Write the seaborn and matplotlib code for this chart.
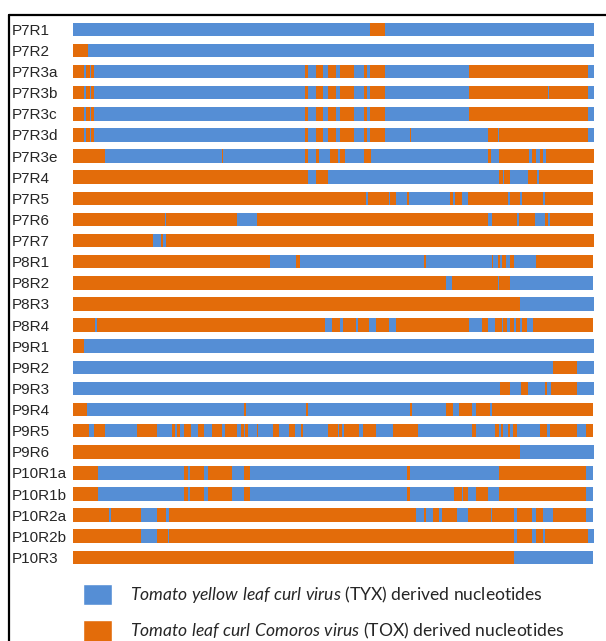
import matplotlib

matplotlib.use("Agg")
import matplotlib.pyplot as plt
import pandas as pd
import seaborn as sns
from matplotlib.lines import Line2D
from matplotlib.patches import Patch

sns.set_style("white")
plt.rcParams["font.family"] = ["Liberation Sans", "DejaVu Sans"]
plt.rcParams["mathtext.fontset"] = "custom"
plt.rcParams["mathtext.rm"] = "Lato"
plt.rcParams["mathtext.it"] = "Lato:italic"

# genome length in scaled position units (whole bar)
GENOME_LEN = 1346

samples = ["P7R1", "P7R2", "P7R3a", "P7R3b", "P7R3c", "P7R3d", "P7R3e",
           "P7R4", "P7R5", "P7R6", "P7R7", "P8R1", "P8R2", "P8R3", "P8R4",
           "P9R1", "P9R2", "P9R3", "P9R4", "P9R5", "P9R6", "P10R1a",
           "P10R1b", "P10R2a", "P10R2b", "P10R3"]

# parent of the first segment of each genome
first_parent = ["TYX", "TOX", "TOX", "TOX", "TOX", "TOX", "TOX",
                "TOX", "TOX", "TOX", "TOX", "TOX", "TOX", "TOX", "TOX",
                "TOX", "TYX", "TYX", "TOX", "TOX", "TOX", "TOX",
                "TOX", "TOX", "TOX", "TOX"]

# positions where the parental origin switches
p7r3_core = [28, 33, 44, 47, 54, 601, 608, 629, 647, 659, 681, 691, 727,
             753, 759, 769, 806]
switch_points = [
    [769, 806],
    [39],
    p7r3_core + [1023, 1331],
    p7r3_core + [1023, 1229, 1232, 1331],
    p7r3_core + [1023, 1331],
    p7r3_core + [871, 874, 1072, 1098, 1101, 1331],
    [83, 386, 389, 601, 608, 628, 637, 665, 684, 691, 704, 753, 770, 1072,
     1082, 1101, 1180, 1186, 1198, 1208, 1216, 1222],
    [608, 629, 659, 1101, 1111, 1115, 1129, 1176, 1201, 1205],
    [758, 762, 817, 821, 835, 865, 870, 975, 982, 989, 1007, 1021, 1126,
     1130, 1156, 1160, 1216, 1221],
    [238, 241, 425, 475, 1072, 1083, 1149, 1154, 1195, 1221, 1229, 1234],
    [208, 227, 234, 240],
    [510, 576, 586, 908, 912, 1084, 1087, 1098, 1104, 1109, 1119, 1129,
     1140, 1198],
    [964, 979, 1098, 1102, 1130],
    [1156],
    [57, 61, 652, 669, 691, 698, 731, 737, 766, 784, 817, 836, 1023, 1058,
     1073, 1091, 1109, 1113, 1123, 1129, 1141, 1145, 1156, 1160, 1173, 1189],
    [29],
    [1242, 1303],
    [1104, 1130, 1159, 1176, 1221, 1227, 1236, 1303],
    [35, 443, 447, 602, 608, 871, 877, 964, 983, 997, 1033, 1041, 1079, 1083],
    [42, 54, 83, 166, 216, 255, 264, 270, 277, 287, 306, 324, 338, 359, 385,
     393, 425, 435, 441, 446, 453, 475, 478, 518, 533, 558, 575, 589, 595,
     659, 684, 689, 696, 702, 739, 751, 784, 828, 891, 1033, 1041, 1091,
     1101, 1106, 1111, 1126, 1130, 1139, 1148, 1208, 1227, 1234, 1303, 1327],
    [1156],
    [65, 288, 297, 303, 338, 348, 410, 442, 459, 865, 872, 1101, 1327],
    [65, 288, 297, 303, 338, 348, 410, 442, 459, 865, 872, 984, 1005, 1009,
     1022, 1041, 1073, 1101, 1327],
    [94, 98, 177, 216, 241, 248, 886, 907, 914, 932, 947, 954, 994, 1022,
     1080, 1083, 1141, 1148, 1188, 1198, 1216, 1242, 1327],
    [177, 216, 245, 248, 1141, 1148, 1188, 1198, 1216, 1221, 1331],
    [1141],
]

colors = {"TYX": "#558ed5", "TOX": "#e36c0a"}


def build_segments():
    rows = []
    for i, name in enumerate(samples):
        edges = [0] + switch_points[i] + [GENOME_LEN]
        parent = first_parent[i]
        for start, end in zip(edges[:-1], edges[1:]):
            rows.append({"sample": name, "row": i, "start": start,
                         "end": end, "parent": parent})
            parent = "TOX" if parent == "TYX" else "TYX"
    return pd.DataFrame(rows)


def main():
    df = build_segments()

    fig = plt.figure(figsize=(6.06, 6.41), dpi=100)
    ax = fig.add_axes([73 / 606, 0.114, 520.5 / 606, 0.8567])

    ax.barh(df["row"], df["end"] - df["start"], left=df["start"],
            height=0.64, color=df["parent"].map(colors), linewidth=0)

    ax.set_xlim(0, GENOME_LEN)
    ax.set_ylim(len(samples) - 0.5, -0.5)
    ax.set_xticks([])
    ax.set_yticks(range(len(samples)), samples, fontsize=11)
    ax.tick_params(axis="y", length=0, pad=44)
    for lbl in ax.get_yticklabels():
        lbl.set_ha("left")
    sns.despine(ax=ax, left=True, bottom=True)

    # frame lines of the original figure
    fig.add_artist(Line2D([9 / 606, 1], [1 - 15 / 641, 1 - 15 / 641],
                          color="black", lw=1.6))
    fig.add_artist(Line2D([9 / 606, 9 / 606], [0, 1 - 15 / 641],
                          color="black", lw=1.6))

    handles = [Patch(facecolor=colors["TYX"]), Patch(facecolor=colors["TOX"])]
    labels = [r"$\mathit{Tomato\ yellow\ leaf\ curl\ virus}$ (TYX) derived nucleotides",
              r"$\mathit{Tomato\ leaf\ curl\ Comoros\ virus}$ (TOX) derived nucleotides"]
    fig.legend(handles, labels, loc="upper left",
               bbox_to_anchor=(83 / 606, 1 - 584 / 641), frameon=False,
               prop={"family": "Lato", "size": 12.6}, handlelength=1.66,
               handleheight=1.5, handletextpad=1.05, labelspacing=0.85,
               borderpad=0, borderaxespad=0)

    fig.savefig("out.png", dpi=100)


if __name__ == "__main__":
    main()
